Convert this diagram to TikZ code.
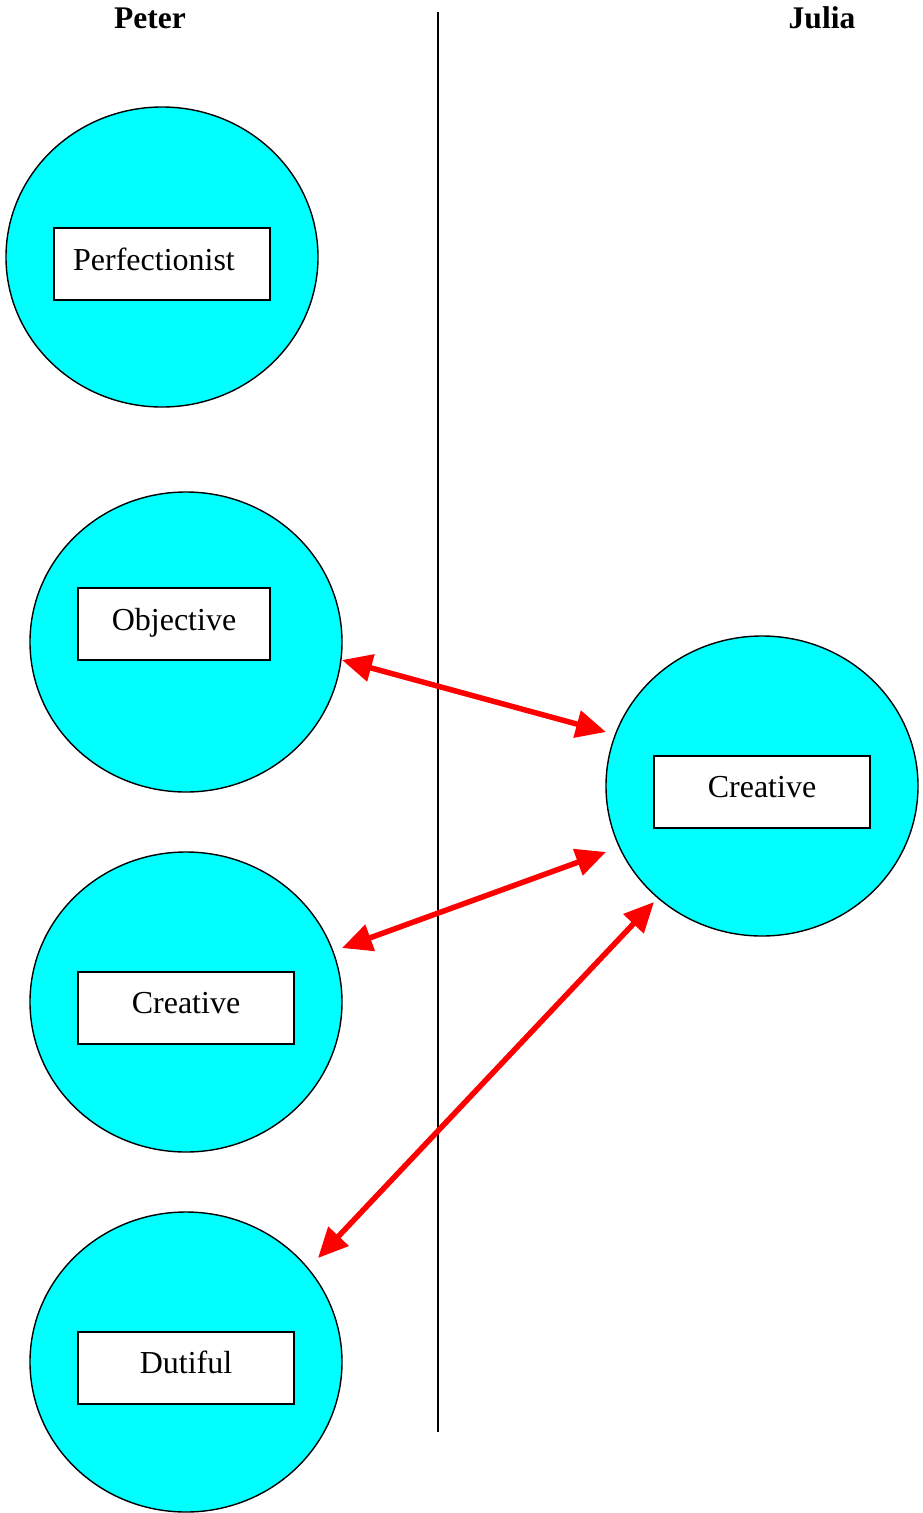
\documentclass[tikz,border=0pt]{standalone}
\usepackage{fontspec}
\setmainfont{Liberation Serif}
\usetikzlibrary{shapes.geometric,arrows.meta}
\definecolor{aqua}{RGB}{0,255,255}
\begin{document}
\begin{tikzpicture}[x=1pt,y=-1pt,
  trait/.style={ellipse,draw=black,fill=aqua,line width=1.4pt,minimum width=312pt,minimum height=300pt,inner sep=0pt,outer sep=0pt},
  box/.style={draw=black,fill=white,line width=1.4pt,minimum height=72pt,inner sep=0pt,outer sep=0pt},
  lbl/.style={anchor=base,inner sep=0pt,font=\fontsize{32}{38}\selectfont},
  head/.style={anchor=base,inner sep=0pt,font=\fontsize{31.5}{38}\selectfont\bfseries},
  link/.style={draw=red,line width=5.5pt,{Triangle[length=30pt,width=27pt]}-{Triangle[length=30pt,width=27pt]}}]
\useasboundingbox (0,0) rectangle (923,1513);
\node[head] (peter) at (150,28) {Peter};
\node[head] (julia) at (822,28) {Julia};
\coordinate (top) at (438,12);
\coordinate (bot) at (438,1432);
\draw[line width=1.4pt] (top) -- (bot);
% Peter
\node[trait] (c1) at (162,257) {};
\node[box,minimum width=216pt] (b1) at (162,264) {};
\node[lbl] (t1) at (154,270) {Perfectionist};
\node[trait] (c2) at (186,642) {};
\node[box,minimum width=192pt] (b2) at (174,624) {};
\node[lbl] (t2) at (174,630) {Objective};
\node[trait] (c3) at (186,1002) {};
\node[box,minimum width=216pt] (b3) at (186,1008) {};
\node[lbl] (t3) at (186,1013) {Creative};
\node[trait] (c4) at (186,1362) {};
\node[box,minimum width=216pt] (b4) at (186,1368) {};
\node[lbl] (t4) at (186,1373) {Dutiful};
% Julia
\node[trait] (j) at (762,786) {};
\node[box,minimum width=216pt] (bj) at (762,792) {};
\node[lbl] (tj) at (762,797) {Creative};
% links
\path[link] ([yshift=-18pt]c2.east) -- ([yshift=54pt]j.west);
\path[link] ([yshift=54pt]c3.east) -- ([yshift=-66pt]j.west);
\path[link] ([shift={(132pt,104pt)}]c4.center) -- ([shift={(-108pt,-116pt)}]j.center);
\end{tikzpicture}
\end{document}
